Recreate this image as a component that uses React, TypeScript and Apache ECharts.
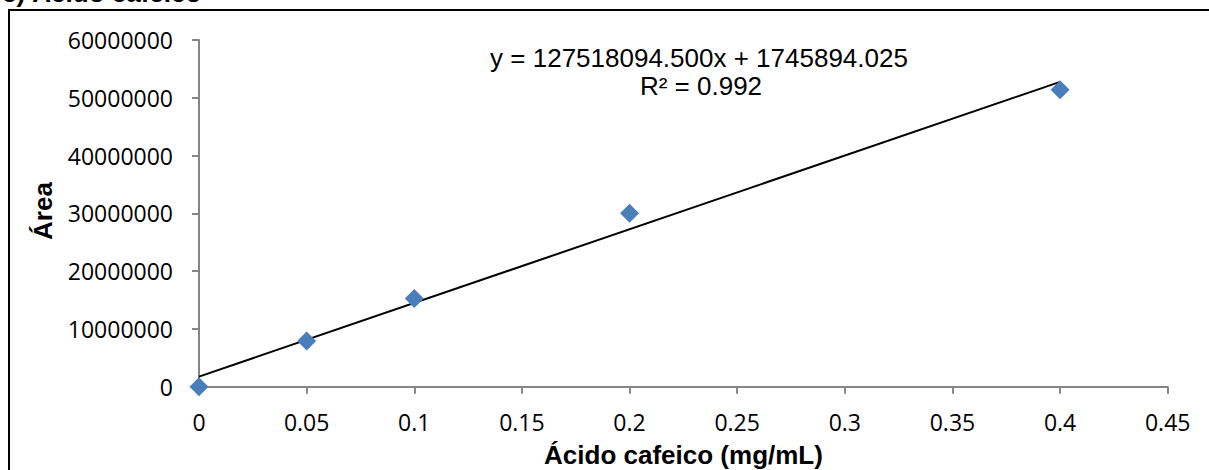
import React, { useEffect, useRef } from "react";
import * as echarts from "echarts";

const concentrations = [0, 0.05, 0.1, 0.2, 0.4];
const areas = [0, 7900000, 15250000, 30000000, 51400000];
const trendSlope = 127518094.5;
const trendIntercept = 1745894.025;
const trendRange = [0, 0.4];
const equationLines = ["y = 127518094.500x + 1745894.025", "R² = 0.992"];
const chartTitle = "c) Ácido cafeico";
const xTitle = "Ácido cafeico (mg/mL)";
const yTitle = "Área";

export default function App() {
  const ref = useRef<HTMLDivElement>(null);
  useEffect(() => {
    if (!ref.current) return;
    const chart = echarts.init(ref.current, null, { renderer: "svg" });
    const trend = trendRange.map((x) => [x, trendSlope * x + trendIntercept]);
    chart.setOption({
      animation: false,
      backgroundColor: "#ffffff",
      grid: { left: 199, right: 41.3, top: 40, bottom: 83.3, containLabel: false },
      xAxis: {
        type: "value",
        min: 0,
        max: 0.45,
        interval: 0.05,
        axisLine: { lineStyle: { color: "#868686", width: 2 } },
        axisTick: { show: true, length: 7, lineStyle: { color: "#868686", width: 2 } },
        splitLine: { show: false },
        axisLabel: {
          color: "#000",
          fontFamily: "Open Sans",
          fontSize: 23,
          lineHeight: 26,
          margin: 22,
          formatter: (v: number) => String(Math.round(v * 100) / 100),
        },
      },
      yAxis: {
        type: "value",
        min: 0,
        max: 60000000,
        interval: 10000000,
        axisLine: { show: true, lineStyle: { color: "#868686", width: 2 } },
        axisTick: { show: true, length: 7, lineStyle: { color: "#868686", width: 2 } },
        splitLine: { show: false },
        axisLabel: {
          color: "#000",
          fontFamily: "Open Sans",
          fontSize: 23,
          margin: 26,
          formatter: (v: number) => String(v),
        },
      },
      series: [
        {
          type: "line",
          data: trend,
          symbol: "none",
          lineStyle: { color: "#000", width: 2 },
          z: 2,
        },
        {
          type: "scatter",
          data: concentrations.map((c, i) => [c, areas[i]]),
          symbol: "diamond",
          symbolSize: 19,
          itemStyle: { color: "#4A7EBB", opacity: 1 },
          z: 3,
        },
      ],
      graphic: [
        {
          type: "rect",
          shape: { x: 9, y: 10, width: 1400, height: 700 },
          style: { fill: "none", stroke: "#000", lineWidth: 2 },
        },
        {
          type: "text",
          x: 2,
          y: -7,
          style: {
            text: chartTitle,
            font: "bold 26px 'Liberation Sans', Arial",
            fill: "#000",
            align: "left",
            verticalAlign: "middle",
          },
        },
        {
          type: "text",
          x: 699,
          y: 57.5,
          style: {
            text: equationLines[0],
            font: "26px 'Liberation Sans', Arial",
            fill: "#000",
            align: "center",
            verticalAlign: "middle",
          },
        },
        {
          type: "text",
          x: 701,
          y: 86,
          style: {
            text: equationLines[1],
            font: "26px 'Liberation Sans', Arial",
            fill: "#000",
            align: "center",
            verticalAlign: "middle",
          },
        },
        {
          type: "text",
          x: 683.5,
          y: 455,
          style: {
            text: xTitle,
            font: "bold 26px 'Liberation Sans', Arial",
            fill: "#000",
            align: "center",
            verticalAlign: "middle",
          },
        },
        {
          type: "text",
          x: 43,
          y: 211,
          rotation: Math.PI / 2,
          style: {
            text: yTitle,
            font: "bold 26px 'Liberation Sans', Arial",
            fill: "#000",
            align: "center",
            verticalAlign: "middle",
          },
        },
      ],
    });
    return () => chart.dispose();
  }, []);
  return (
    <div
      ref={ref}
      style={{ position: "fixed", left: 0, top: 0, width: 1209, height: 470, background: "#fff" }}
    />
  );
}
